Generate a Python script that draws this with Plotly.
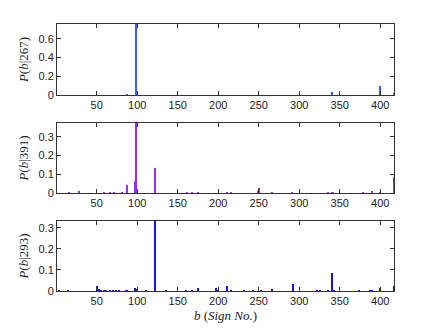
import plotly.graph_objects as go

# Panel 1: P(b|267)
signs_267 = [88, 98, 341, 400, 417]
prob_267 = [0.002, 0.76, 0.036, 0.093, 0.025]

# Panel 2: P(b|391)
signs_391 = [16, 28, 59, 66, 72, 81, 87, 97, 98, 100, 122, 161, 168, 175,
             211, 216, 249, 251, 266, 291, 335, 340, 342, 379, 390, 400, 417]
prob_391 = [0.003, 0.013, 0.003, 0.004, 0.003, 0.005, 0.041, 0.066, 0.373, 0.02, 0.133,
            0.005, 0.004, 0.006, 0.004, 0.005, 0.01, 0.027, 0.005, 0.002, 0.003, 0.006,
            0.006, 0.005, 0.012, 0.005, 0.087]

# Panel 3: P(b|293)
signs_293 = [4, 15, 51, 53, 56, 59, 62, 66, 70, 74, 78, 86, 88, 97, 99, 111, 122, 136,
             160, 168, 175, 197, 199, 211, 216, 232, 243, 253, 266, 292, 322, 326, 335,
             341, 343, 374, 387, 390, 400, 417]
prob_293 = [0.003, 0.005, 0.024, 0.008, 0.007, 0.007, 0.006, 0.006, 0.006, 0.005, 0.005,
            0.006, 0.006, 0.014, 0.008, 0.004, 0.333, 0.005, 0.006, 0.006, 0.016, 0.014,
            0.005, 0.024, 0.003, 0.006, 0.007, 0.003, 0.01, 0.032, 0.006, 0.006, 0.005,
            0.084, 0.007, 0.002, 0.004, 0.007, 0.014, 0.022]

x_ticks = [50, 100, 150, 200, 250, 300, 350, 400]
y_ticks_1 = [0, 0.2, 0.4, 0.6]
y_ticks_2 = [0, 0.1, 0.2, 0.3]
y_ticks_3 = [0, 0.1, 0.2, 0.3]

panels = [
    (signs_267, prob_267, "#3a5cf2", "267", y_ticks_1, 0.76, (0.734, 1.0)),
    (signs_391, prob_391, "#9b2cff", "391", y_ticks_2, 0.373, (0.367, 0.6292)),
    (signs_293, prob_293, "#1414e0", "293", y_ticks_3, 0.333, (0.0, 0.2622)),
]

fig = go.Figure()
tick_font = dict(family="Liberation Sans, Arial, sans-serif", size=11, color="#222")
title_font = dict(family="Liberation Serif, DejaVu Serif, serif", size=13, color="#222")

for i, (xs, ys, col, lab, yt, ymax, dom) in enumerate(panels, start=1):
    fig.add_trace(go.Bar(x=xs, y=ys, width=1.4, marker=dict(color=col, line=dict(width=0)),
                         xaxis=f"x{i}", yaxis=f"y{i}", showlegend=False))
    xa = dict(domain=[0, 1], range=[1, 417], tickvals=x_ticks,
              ticks="inside", ticklen=4, tickcolor="#333", showline=True, linecolor="#333",
              linewidth=1, mirror="ticks", showgrid=False, zeroline=False, automargin=False,
              tickfont=tick_font, anchor=f"y{i}")
    ya = dict(domain=list(dom), range=[0, ymax], tickvals=yt,
              ticktext=[("0" if v == 0 else f"{v:g}") for v in yt],
              ticks="inside", ticklen=4, tickcolor="#333", showline=True, linecolor="#333",
              linewidth=1, mirror="ticks", showgrid=False, zeroline=False, automargin=False,
              tickfont=tick_font, anchor=f"x{i}",
              title=dict(text=f"<i>P</i>(<i>b</i>|{lab})", font=title_font, standoff=6))
    if i == 3:
        xa["title"] = dict(text="<i>b</i> (<i>Sign No.</i>)", font=title_font, standoff=4)
    fig.layout[f"xaxis{i}" if i > 1 else "xaxis"] = xa
    fig.layout[f"yaxis{i}" if i > 1 else "yaxis"] = ya

fig.update_layout(width=436, height=328, margin=dict(l=49, r=50, t=16, b=45, autoexpand=False),
                  paper_bgcolor="white", plot_bgcolor="white", bargap=0)
fig.write_html("out.html")
